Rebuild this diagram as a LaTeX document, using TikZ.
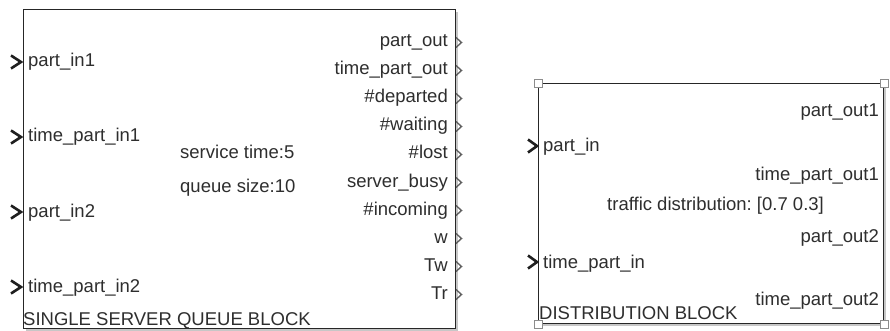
\documentclass[tikz,border=0pt]{standalone}
\usepackage{fontspec}
\setmainfont{Liberation Sans}
\usetikzlibrary{positioning}
\frenchspacing
\tikzset{blk/.style={draw=black!85,line width=1.3pt,fill=white,inner sep=0pt,anchor=north west},
  shadow/.style={fill=black!22,draw=none},
  txt/.style={inner sep=0pt,font=\fontsize{18.5}{20}\selectfont,text=black!82},
  inlab/.style={txt,anchor=base west},
  outlab/.style={txt,anchor=base east},
  inport/.style={line width=2.6pt,black!88,line join=miter},
  outport/.style={line width=1.4pt,black!62,line join=miter},
  handle/.style={draw=black!45,fill=white,line width=0.8pt,minimum size=8pt,inner sep=0pt}}
\begin{document}
\begin{tikzpicture}[x=1pt,y=-1pt]
\useasboundingbox[fill=white] (0,0) rectangle (890,331);
% single server queue block
\fill[shadow] (26,12) rectangle (458,331);
\node[blk,minimum width=432pt,minimum height=319pt] (queue) at (23,9) {};
\foreach \y in {62,137,212,287}
  \draw[inport] (11,\y-6.5) -- (21,\y) -- (11,\y+6.5);
\foreach \y in {42.5,70.5,98.5,126.5,154.5,182.5,210.5,238.5,266.5,294.5}
  \draw[outport] (456,\y-5) -- (461.5,\y) -- (456,\y+5);
\node[inlab] (in1) at (28,67) {part\_in1};
\node[inlab] (tin1) at (28,142) {time\_part\_in1};
\node[inlab] (in2) at (28,217) {part\_in2};
\node[inlab] (tin2) at (28,292) {time\_part\_in2};
\node[inlab] (svc) at (180,158) {service time:5};
\node[inlab] (qsize) at (180,192) {queue size:10};
\node[inlab] (qtitle) at (23,325) {SINGLE SERVER QUEUE BLOCK};
\node[outlab] (out) at (448,47) {part\_out};
\node[outlab] (tout) at (448,75) {time\_part\_out};
\node[outlab] (dep) at (448,103) {\#departed};
\node[outlab] (wait) at (448,131) {\#waiting};
\node[outlab] (lost) at (448,159) {\#lost};
\node[outlab] (busy) at (448,187) {server\_busy};
\node[outlab] (inc) at (448,215) {\#incoming};
\node[outlab] (w) at (448,243) {w};
\node[outlab] (tw) at (448,271) {Tw};
\node[outlab] (tr) at (448,299) {Tr};
% distribution block
\fill[shadow] (541,86) rectangle (886,326);
\node[blk,minimum width=345pt,minimum height=240pt] (dist) at (538,83) {};
\draw[inport] (528,139.5) -- (537,146) -- (528,152.5);
\draw[inport] (528,255.5) -- (537,262) -- (528,268.5);
\node[inlab] (din) at (543,152) {part\_in};
\node[inlab] (dtin) at (543,268) {time\_part\_in};
\node[outlab] (dout1) at (879,117) {part\_out1};
\node[outlab] (dtout1) at (879,180) {time\_part\_out1};
\node[outlab] (dout2) at (879,242) {part\_out2};
\node[outlab] (dtout2) at (879,305) {time\_part\_out2};
\node[inlab] (traffic) at (607,210) {traffic distribution: [0.7 0.3]};
\node[inlab] (dtitle) at (539,319) {DISTRIBUTION BLOCK};
\node[handle] (h1) at (dist.north west) {};
\node[handle] (h2) at (dist.north east) {};
\node[handle] (h3) at (dist.south west) {};
\node[handle] (h4) at (dist.south east) {};
\end{tikzpicture}
\end{document}
